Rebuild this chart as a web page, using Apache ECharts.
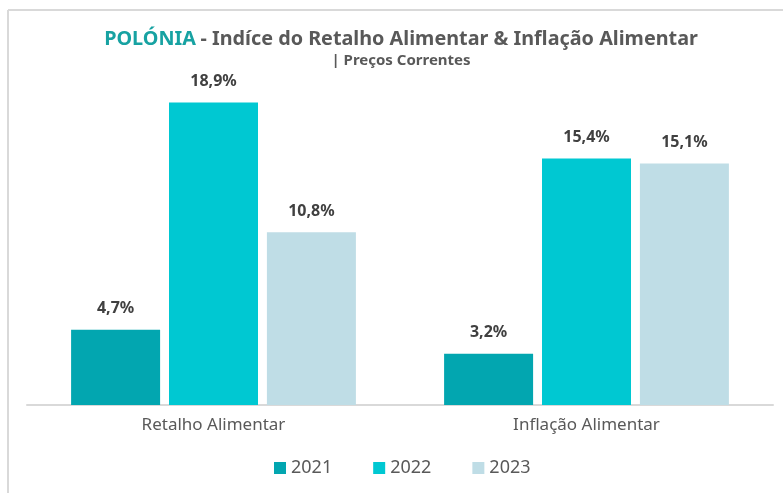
<!DOCTYPE html>
<html style="width: 100%; height: 100%">
<head>
    <meta charset="utf-8">
    <script src="https://cdn.jsdelivr.net/npm/echarts@6/dist/echarts.min.js"></script>
</head>
<body style="width: 100%; height: 100%; margin: 0; background: #fff">
<div id="container" style="width: 783px; height: 493px"></div>

<script type="text/javascript">
    var categories = ['Retalho Alimentar', 'Inflação Alimentar'];
    var years = ['2021', '2022', '2023'];
    var values2021 = [4.7, 3.2];
    var values2022 = [18.9, 15.4];
    var values2023 = [10.8, 15.1];
    var colors = ['#02a6b0', '#00c8d2', '#bfdde6'];

    var myChart = echarts.init(document.getElementById('container'));
    var font = '"Noto Sans", sans-serif';

    function barSeries(name, data, color) {
        return {
            name: name,
            type: 'bar',
            data: data,
            barWidth: 89,
            barGap: '10%',
            itemStyle: {color: color},
            label: {
                show: true,
                position: 'top',
                distance: 13,
                fontFamily: font,
                fontSize: 16,
                fontWeight: 'bold',
                color: '#404040',
                formatter: function (p) {
                    return p.value.toFixed(1).replace('.', ',') + '%';
                }
            }
        };
    }

    var option = {
        animation: false,
        color: colors,
        title: {
            text: '{a|POLÓNIA} {b|- Indíce do Retalho Alimentar & Inflação Alimentar}',
            subtext: '| Preços Correntes',
            left: 396,
            textAlign: 'center',
            top: 24,
            itemGap: 4,
            textStyle: {
                fontFamily: font,
                rich: {
                    a: {fontSize: 19.8, fontWeight: 'bold', color: '#17a2a2', fontFamily: font},
                    b: {fontSize: 19.8, fontWeight: 'bold', color: '#595959', fontFamily: font}
                }
            },
            subtextStyle: {
                fontFamily: font,
                fontSize: 15,
                fontWeight: 'bold',
                color: '#595959'
            }
        },
        legend: {
            data: years,
            bottom: 11,
            left: 269,
            itemWidth: 12,
            itemHeight: 12,
            itemGap: 41,
            icon: 'rect',
            textStyle: {fontFamily: font, fontSize: 18, color: '#595959'}
        },
        grid: {left: 27, right: 10, top: 85, bottom: 88},
        xAxis: {
            type: 'category',
            data: categories,
            axisLine: {lineStyle: {color: '#d9d9d9', width: 2}},
            axisTick: {show: false},
            axisLabel: {
                margin: 12,
                fontFamily: font,
                fontSize: 17,
                color: '#595959'
            }
        },
        yAxis: {
            type: 'value',
            min: 0,
            max: 20,
            show: false
        },
        graphic: [
            {type: 'line', shape: {x1: 8, y1: 10, x2: 783, y2: 10}, style: {stroke: '#d9d9d9', lineWidth: 2}},
            {type: 'line', shape: {x1: 8, y1: 10, x2: 8, y2: 493}, style: {stroke: '#d9d9d9', lineWidth: 2}}
        ],
        series: [
            barSeries('2021', values2021, colors[0]),
            barSeries('2022', values2022, colors[1]),
            barSeries('2023', values2023, colors[2])
        ]
    };
    myChart.setOption(option);
</script>
</body>
</html>
